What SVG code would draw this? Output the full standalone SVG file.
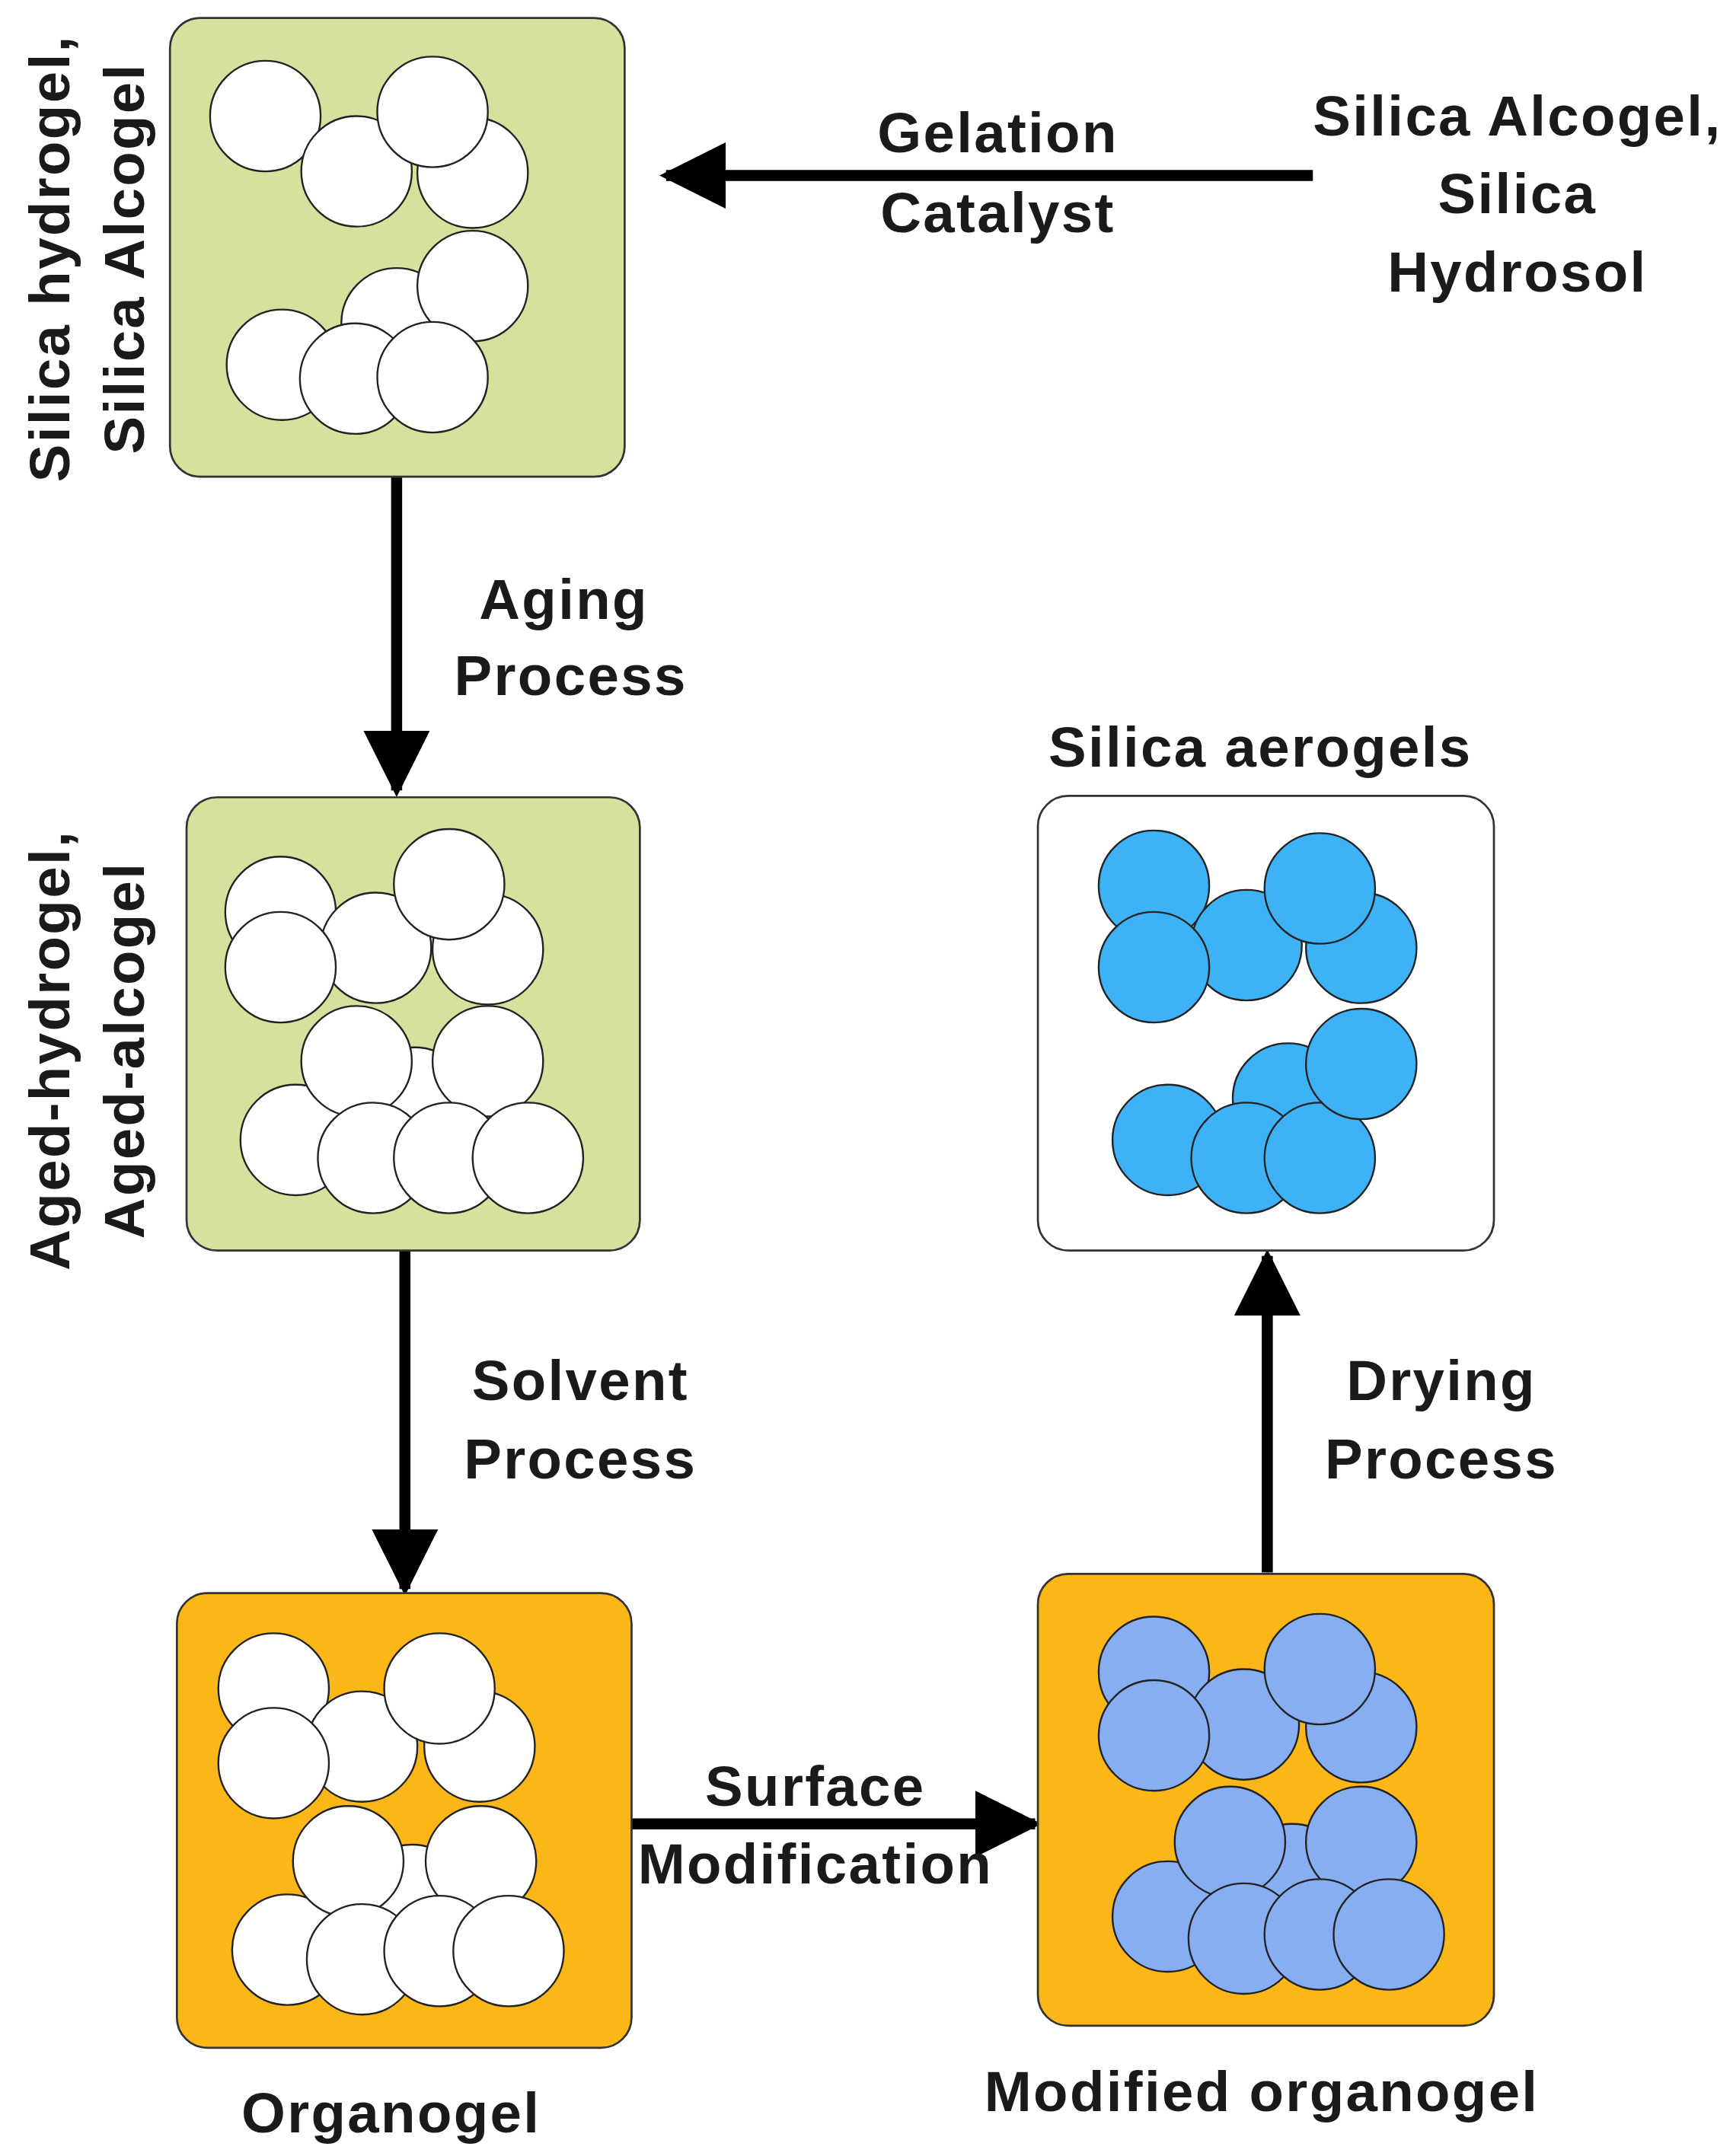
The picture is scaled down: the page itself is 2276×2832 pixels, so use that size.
<svg xmlns="http://www.w3.org/2000/svg" width="2276" height="2832" viewBox="0 0 2276 2832">
<style>
.t{font-family:"Liberation Sans",Arial,sans-serif;font-weight:bold;font-size:41px;letter-spacing:1.3px;fill:#1a1a1a;text-anchor:middle}
.box{stroke:#333;stroke-width:1.5}
.g{fill:#d5e29e}.o{fill:#fbb618}.w{fill:#fff}
circle{stroke:#222;stroke-width:1.3}
.cw circle{fill:#fff}.cl circle{fill:#86aef0}.cb circle{fill:#3db2f6}
.ln{stroke:#000;stroke-width:8;fill:none}
</style>
<defs><marker id="ah" viewBox="0 0 10 10" refX="9" refY="5" markerWidth="6" markerHeight="6" markerUnits="strokeWidth" orient="auto"><path d="M0,0L10,5L0,10z" fill="#000"/></marker></defs>
<rect width="2276" height="2832" fill="#fff"/>
<g transform="scale(1.815)">
<g id="connectors">
<line class="ln" x1="950" y1="127" x2="482" y2="127" marker-end="url(#ah)"/>
<line class="ln" x1="287" y1="345" x2="287" y2="572" marker-end="url(#ah)"/>
<line class="ln" x1="293" y1="905" x2="293" y2="1150" marker-end="url(#ah)"/>
<line class="ln" x1="457" y1="1320" x2="749" y2="1320" marker-end="url(#ah)"/>
<line class="ln" x1="917" y1="1138" x2="917" y2="909" marker-end="url(#ah)"/>
</g>
<g id="n1"><rect class="box g" x="123" y="13" width="329" height="332" rx="22"/>
<g class="cw"><circle cx="192" cy="84" r="40"/><circle cx="258" cy="124" r="40"/><circle cx="342" cy="125" r="40"/><circle cx="313" cy="81" r="40"/><circle cx="287" cy="234" r="40"/><circle cx="204" cy="264" r="40"/><circle cx="257" cy="274" r="40"/><circle cx="342" cy="207" r="40"/><circle cx="313" cy="273" r="40"/></g></g>
<g id="n2"><rect class="box g" x="135" y="577" width="328" height="328" rx="22"/>
<g class="cw"><circle cx="203" cy="660" r="40"/><circle cx="272" cy="686" r="40"/><circle cx="353" cy="687" r="40"/><circle cx="325" cy="640" r="40"/><circle cx="203" cy="700" r="40"/><circle cx="300" cy="798" r="40"/><circle cx="214" cy="825" r="40"/><circle cx="258" cy="768" r="40"/><circle cx="353" cy="768" r="40"/><circle cx="270" cy="838" r="40"/><circle cx="325" cy="838" r="40"/><circle cx="382" cy="838" r="40"/></g></g>
<g id="n3"><rect class="box o" x="128" y="1153" width="329" height="329" rx="22"/>
<g class="cw"><circle cx="198" cy="1222" r="40"/><circle cx="262" cy="1264" r="40"/><circle cx="347" cy="1264" r="40"/><circle cx="318" cy="1222" r="40"/><circle cx="198" cy="1276" r="40"/><circle cx="298" cy="1375" r="40"/><circle cx="208" cy="1411" r="40"/><circle cx="252" cy="1347" r="40"/><circle cx="348" cy="1347" r="40"/><circle cx="262" cy="1418" r="40"/><circle cx="318" cy="1412" r="40"/><circle cx="368" cy="1412" r="40"/></g></g>
<g id="n4"><rect class="box o" x="751" y="1139" width="330" height="327" rx="22"/>
<g class="cl"><circle cx="835" cy="1210" r="40"/><circle cx="900" cy="1248" r="40"/><circle cx="985" cy="1250" r="40"/><circle cx="955" cy="1208" r="40"/><circle cx="835" cy="1256" r="40"/><circle cx="935" cy="1360" r="40"/><circle cx="845" cy="1387" r="40"/><circle cx="890" cy="1333" r="40"/><circle cx="985" cy="1333" r="40"/><circle cx="900" cy="1403" r="40"/><circle cx="955" cy="1400" r="40"/><circle cx="1005" cy="1400" r="40"/></g></g>
<g id="n5"><rect class="box w" x="751" y="576" width="330" height="329" rx="22"/>
<g class="cb"><circle cx="835" cy="641" r="40"/><circle cx="902" cy="684" r="40"/><circle cx="985" cy="686" r="40"/><circle cx="955" cy="643" r="40"/><circle cx="835" cy="700" r="40"/><circle cx="932" cy="795" r="40"/><circle cx="845" cy="825" r="40"/><circle cx="902" cy="838" r="40"/><circle cx="955" cy="838" r="40"/><circle cx="985" cy="770" r="40"/></g></g>
<g id="labels">
<text class="t" x="722" y="110">Gelation</text><text class="t" x="722" y="168">Catalyst</text>
<text class="t" x="1098" y="98">Silica Alcogel,</text><text class="t" x="1098" y="154">Silica</text><text class="t" x="1098" y="211">Hydrosol</text>
<text class="t" transform="translate(50,187) rotate(-90)">Silica hydrogel,</text>
<text class="t" transform="translate(104,187) rotate(-90)">Silica Alcogel</text>
<text class="t" transform="translate(50,760) rotate(-90)">Aged-hydrogel,</text>
<text class="t" transform="translate(104,760) rotate(-90)">Aged-alcogel</text>
<text class="t" x="408" y="448">Aging</text><text class="t" x="413" y="503">Process</text>
<text class="t" x="420" y="1013">Solvent</text><text class="t" x="420" y="1070">Process</text>
<text class="t" x="912" y="555">Silica aerogels</text>
<text class="t" x="1043" y="1013">Drying</text><text class="t" x="1043" y="1070">Process</text>
<text class="t" x="590" y="1307">Surface</text><text class="t" x="590" y="1363">Modification</text>
<text class="t" x="283" y="1543">Organogel</text><text class="t" x="913" y="1528">Modified organogel</text>
</g>
</g>
</svg>
